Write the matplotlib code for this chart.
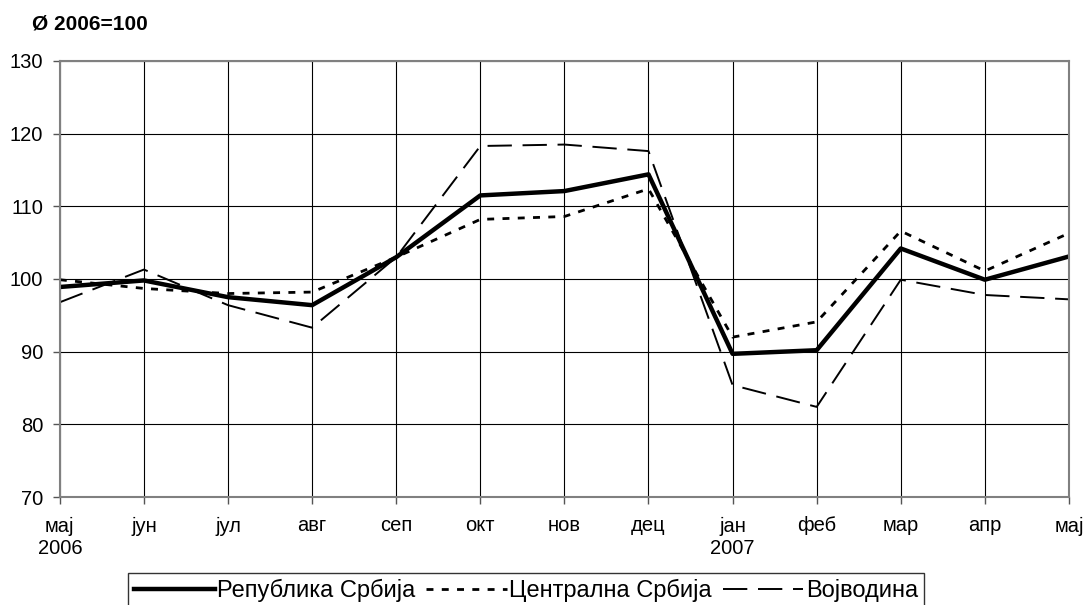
import matplotlib.pyplot as plt

plt.rcParams['font.family'] = ['Liberation Sans', 'DejaVu Sans']

months = ["мај\n2006", "јун", "јул", "авг", "сеп", "окт", "нов", "дец",
          "јан\n2007", "феб", "мар", "апр", "мај"]
republika = [98.9, 99.8, 97.5, 96.4, 103.0, 111.5, 112.1, 114.4, 89.7, 90.2, 104.2, 99.9, 103.1]
centralna = [99.9, 98.7, 98.0, 98.2, 103.0, 108.2, 108.6, 112.4, 92.0, 94.1, 106.6, 101.1, 106.3]
vojvodina = [96.8, 101.3, 96.4, 93.3, 103.0, 118.3, 118.5, 117.6, 85.4, 82.4, 99.9, 97.8, 97.2]

fig = plt.figure(figsize=(10.88, 6.05), dpi=100)
ax = fig.add_axes([0.055, 0.1785, 0.9275, 0.7207])

x = range(len(months))
ax.plot(x, republika, color='black', lw=3.2, label="Република Србија")
ax.plot(x, centralna, color='black', lw=2.0, linestyle=(0, (2.5, 3)), label="Централна Србија")
ax.plot(x, vojvodina, color='black', lw=1.4, linestyle=(0, (12.5, 5.5)), label="Војводина")

ax.set_xlim(0, len(months) - 1)
ax.set_ylim(70, 130)
ax.set_yticks(range(70, 131, 10))
ax.set_xticks(list(x))
ax.set_xticklabels(months, fontsize=14.5, linespacing=1.25)
ax.tick_params(axis='y', labelsize=14.5, length=5, color='#555555', width=1, pad=7)
ax.tick_params(axis='x', length=5, color='#555555', width=1, pad=9)
ax.grid(True, color='black', lw=0.8)
for s in ax.spines.values():
    s.set_color('#808080')
    s.set_linewidth(1.5)

fig.text(0.029, 0.960, "Ø 2006=100", fontsize=15, fontweight='bold', va='center')

leg = fig.legend(loc='upper center', bbox_to_anchor=(0.4835, 0.053), ncol=3, fontsize=17,
                 frameon=True, fancybox=False, edgecolor='black', handlelength=3.4,
                 handletextpad=0.12, columnspacing=0.45, borderpad=0.25, borderaxespad=0)
leg.get_frame().set_linewidth(1.0)

fig.savefig("out.png", dpi=100)
